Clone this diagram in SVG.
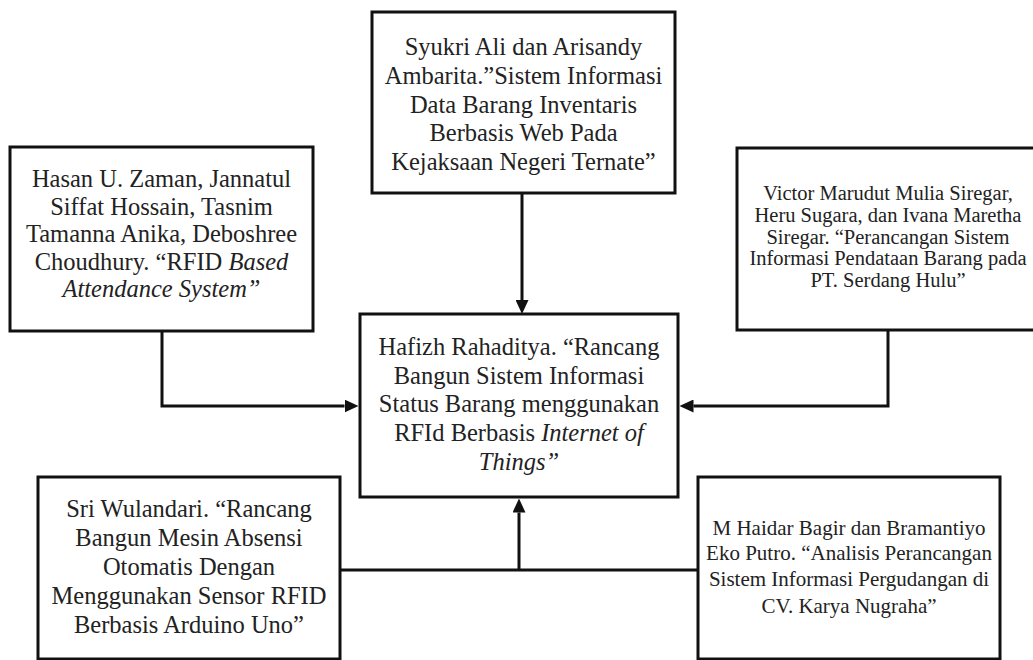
<svg xmlns="http://www.w3.org/2000/svg" width="1033" height="660" viewBox="0 0 1033 660">
<style>
.box{fill:#fff;stroke:#111;stroke-width:3}
.t{font-family:"Liberation Serif","Times New Roman",serif;font-size:24.5px;fill:#222;text-anchor:middle}
.s{font-size:21px}
.v{font-size:20.5px}
.i{font-style:italic}
.c{fill:none;stroke:#111;stroke-width:3}
</style>
<defs>
<marker id="ah" viewBox="0 0 14 13" markerWidth="14" markerHeight="13" refX="0" refY="6.5" orient="auto" markerUnits="userSpaceOnUse">
<path d="M0,0 L14,6.5 L0,13 z" fill="#111"/>
</marker>
</defs>
<rect width="1033" height="660" fill="#fff"/>
<g id="connectors">
<path class="c" d="M522,193 V300" marker-end="url(#ah)"/>
<path class="c" d="M162,331 V406 H344.5" marker-end="url(#ah)"/>
<path class="c" d="M888,330 V406 H693.5" marker-end="url(#ah)"/>
<path class="c" d="M340,570 H698"/>
<path class="c" d="M519,570 V512.5" marker-end="url(#ah)"/>
</g>
<g id="node-top">
<rect class="box" x="372" y="12" width="303" height="181"/>
<text class="t" x="523.5" y="55">Syukri Ali dan Arisandy</text>
<text class="t" x="523.5" y="83.75">Ambarita.”Sistem Informasi</text>
<text class="t" x="523.5" y="112.5">Data Barang Inventaris</text>
<text class="t" x="523.5" y="141.25">Berbasis Web Pada</text>
<text class="t" x="523.5" y="170">Kejaksaan Negeri Ternate”</text>
</g>
<g id="node-hasan">
<rect class="box" x="10" y="147" width="303" height="184"/>
<text class="t" x="161.5" y="187">Hasan U. Zaman, Jannatul</text>
<text class="t" x="161.5" y="214.5">Siffat Hossain, Tasnim</text>
<text class="t" x="161.5" y="242">Tamanna Anika, Deboshree</text>
<text class="t" x="161.5" y="269.5">Choudhury. “RFID <tspan class="i">Based</tspan></text>
<text class="t i" x="161.5" y="297">Attendance System”</text>
</g>
<g id="node-victor">
<rect class="box" x="737" y="148" width="302" height="182"/>
<text class="t v" x="888" y="200">Victor Marudut Mulia Siregar,</text>
<text class="t v" x="888" y="222">Heru Sugara, dan Ivana Maretha</text>
<text class="t v" x="888" y="243.5">Siregar. “Perancangan Sistem</text>
<text class="t v" x="888" y="265">Informasi Pendataan Barang pada</text>
<text class="t v" x="888" y="287">PT. Serdang Hulu”</text>
</g>
<g id="node-center">
<rect class="box" x="360" y="314" width="318" height="183"/>
<text class="t" x="519" y="355">Hafizh Rahaditya. “Rancang</text>
<text class="t" x="519" y="383.5">Bangun Sistem Informasi</text>
<text class="t" x="519" y="412">Status Barang menggunakan</text>
<text class="t" x="519" y="441">RFId Berbasis <tspan class="i">Internet of</tspan></text>
<text class="t i" x="519" y="470">Things”</text>
</g>
<g id="node-sri">
<rect class="box" x="38" y="477" width="302" height="182"/>
<text class="t" x="189" y="517">Sri Wulandari. “Rancang</text>
<text class="t" x="189" y="546">Bangun Mesin Absensi</text>
<text class="t" x="189" y="575">Otomatis Dengan</text>
<text class="t" x="189" y="604">Menggunakan Sensor RFID</text>
<text class="t" x="189" y="633">Berbasis Arduino Uno”</text>
</g>
<g id="node-haidar">
<rect class="box" x="698" y="477" width="302" height="182"/>
<text class="t s" x="849" y="535">M Haidar Bagir dan Bramantiyo</text>
<text class="t s" x="849" y="560">Eko Putro. “Analisis Perancangan</text>
<text class="t s" x="849" y="586">Sistem Informasi Pergudangan di</text>
<text class="t s" x="849" y="613">CV. Karya Nugraha”</text>
</g>
</svg>
